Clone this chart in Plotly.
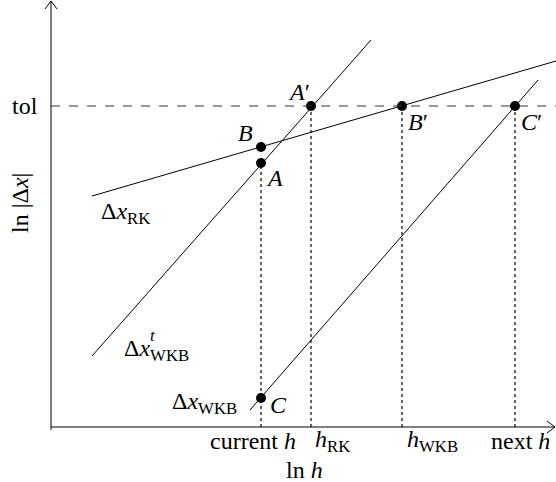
import plotly.graph_objects as go

# data in (ln h, ln|dx|) units, origin at the axes corner
tol = 321

rk_x = [41, 505]
rk_y = [231, 366]
wkbt_x = [41, 320]
wkbt_y = [71, 387]
wkb_x = [199, 487]
wkb_y = [17, 347]

pt_names = ["B", "A", "A′", "B′", "C′", "C"]
pt_x = [210, 210, 260, 351, 464, 210]
pt_y = [280, 264, tol, tol, tol, 29]

drop_x = [210, 260, 351, 464]
drop_top = [264, tol, tol, tol]

tick_x = [202, 281, 381, 469]
tick_labels = ["current <i>h</i>", "<i>h</i><sub>RK</sub>", "<i>h</i><sub>WKB</sub>", "next <i>h</i>"]

FONT = "Liberation Serif"
fig = go.Figure()

line_kw = dict(mode="lines", line=dict(color="black", width=1), showlegend=False, hoverinfo="skip")
fig.add_trace(go.Scatter(x=rk_x, y=rk_y, **line_kw))
fig.add_trace(go.Scatter(x=wkbt_x, y=wkbt_y, **line_kw))
fig.add_trace(go.Scatter(x=wkb_x, y=wkb_y, **line_kw))

# dotted drops to the axis
for x0, y0 in zip(drop_x, drop_top):
    fig.add_shape(type="line", x0=x0, x1=x0, y0=0, y1=y0,
                  line=dict(color="black", width=1.2, dash="dot"))

# tol dashed line
fig.add_shape(type="line", x0=0, x1=505, y0=tol, y1=tol,
              line=dict(color="#333", width=1, dash="dash"))

# axes with open arrow heads
ax = dict(color="black", width=1)
fig.add_shape(type="line", x0=0, x1=504, y0=0, y1=0, line=ax)
fig.add_shape(type="line", x0=0, x1=0, y0=-3, y1=426, line=ax)
fig.add_shape(type="path", path="M 496,6 L 504,0 L 496,-6", line=ax)
fig.add_shape(type="path", path="M -6,418 L 0,426 L 6,418", line=ax)

fig.add_trace(go.Scatter(x=pt_x, y=pt_y, mode="markers",
                         marker=dict(color="black", size=10),
                         showlegend=False, hoverinfo="skip"))

def label(x, y, text, size=24, **kw):
    fig.add_annotation(x=x, y=y, text=text, showarrow=False,
                       font=dict(family=FONT, size=size, color="black"), **kw)

label(194, 294, "<i>B</i>")
label(223, 249, "<i>A</i>")
label(248, 335, "<i>A</i>′")
label(367, 305, "<i>B</i>′")
label(480, 305, "<i>C</i>′")
label(227, 22, "<i>C</i>")
label(-26, tol, "tol")
label(74, 214, "Δ<i>x</i><sub>RK</sub>")
label(105, 77, "Δ<i>x</i><sub>WKB</sub>")
label(102, 92, "<i>t</i>", size=17)
label(153, 24, "Δ<i>x</i><sub>WKB</sub>")
for tx, tl in zip(tick_x, tick_labels):
    label(tx, -14, tl)
label(253, -43, "ln <i>h</i>")
label(-31, 224, "ln |Δ<i>x</i>|", textangle=-90)

fig.update_layout(
    width=556, height=482,
    margin=dict(l=0, r=0, t=0, b=0),
    plot_bgcolor="white", paper_bgcolor="white",
    xaxis=dict(range=[-51, 505], visible=False),
    yaxis=dict(range=[-55, 427], visible=False),
)
fig.write_html("out.html", config={"displayModeBar": False},
               post_script="document.body.style.margin='0';")
